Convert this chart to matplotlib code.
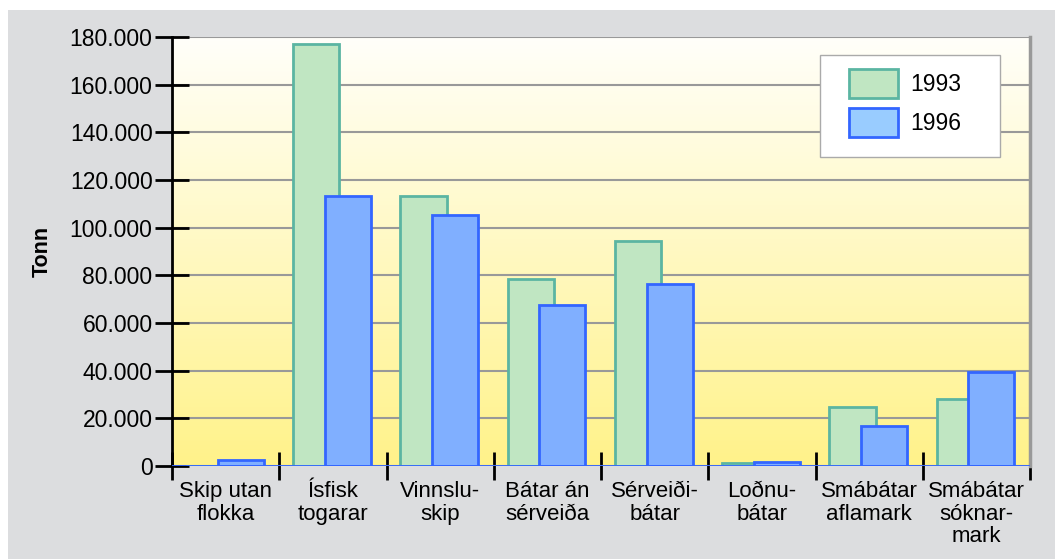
import numpy as np
import matplotlib
matplotlib.use("Agg")
import matplotlib.pyplot as plt
from matplotlib.patches import Patch, Rectangle
from matplotlib.ticker import FuncFormatter

plt.rcParams['font.family'] = ['Liberation Sans', 'DejaVu Sans']

categories = ["Skip utan\nflokka", "Ísfisk\ntogarar", "Vinnslu-\nskip", "Bátar án\nsérveiða",
              "Sérveiði-\nbátar", "Loðnu-\nbátar", "Smábátar\naflamark", "Smábátar\nsóknar-\nmark"]
vals_1993 = [0, 177000, 113300, 78500, 94400, 1300, 24800, 28100]
vals_1996 = [2500, 113300, 105300, 67600, 76400, 1500, 16800, 39400]
yticks = np.arange(0, 180001, 20000)

green_face, green_edge = "#C0E6C2", "#5BB5A2"
blue_face, blue_edge = "#80AFFF", "#3366FF"

fig = plt.figure(figsize=(10.55, 5.59), dpi=100)
fig.patches.append(Rectangle((8 / 1055, 0), 1, 1 - 10 / 559, transform=fig.transFigure,
                             facecolor="#DCDDDF", edgecolor="none", zorder=-10))

ax = fig.add_axes([172 / 1055, 1 - 466 / 559, 858 / 1055, 429 / 559])
ax.set_facecolor("none")

# yellow gradient background
grad = np.linspace(0, 1, 256).reshape(-1, 1)
top = np.array([1.0, 1.0, 0.98])
bot = np.array([1.0, 0.95, 0.54])
img = top * (1 - grad[..., None]) + bot * grad[..., None]
img = np.repeat(img, 2, axis=1)
ax.imshow(img, extent=[0, 1, 0, 1], transform=ax.transAxes, aspect="auto", zorder=0)

x = np.arange(len(categories))
ax.bar(x - 0.155, vals_1993, width=0.43, color=green_face, edgecolor=green_edge, linewidth=2, zorder=3)
ax.bar(x + 0.14, vals_1996, width=0.43, color=blue_face, edgecolor=blue_edge, linewidth=2, zorder=4)

ax.set_xlim(-0.5, len(categories) - 0.5)
ax.set_ylim(0, 180000)
ax.set_yticks(yticks)
ax.yaxis.set_major_formatter(FuncFormatter(lambda v, p: f"{v:,.0f}".replace(",", ".")))
ax.yaxis.grid(True, color="#999999", linewidth=1.5, zorder=1)
ax.axhline(0, color=blue_edge, linewidth=2, zorder=5)

ax.set_xticks(x)
ax.set_xticklabels(categories, fontsize=16, linespacing=1.1)
ax.tick_params(axis="x", which="major", length=0, pad=11)
ax.set_xticks(np.arange(-0.5, len(categories)), minor=True)
ax.tick_params(axis="x", which="minor", length=20, width=2, direction="inout", color="black")
ax.tick_params(axis="y", length=24, width=2, direction="inout", labelsize=16.5, pad=2, color="black")

for s in ["top", "bottom"]:
    ax.spines[s].set_visible(False)
ax.spines["left"].set_linewidth(2)
ax.spines["right"].set_color("#999999")
ax.spines["right"].set_linewidth(2.5)

ax.set_ylabel("Tonn", fontsize=15.5, fontweight="bold", labelpad=12)

# legend box drawn separately so it can be wider than its contents
ax.add_patch(Rectangle((0.755, 0.720), 0.210, 0.238, transform=ax.transAxes,
                       facecolor="white", edgecolor="#AAAAAA", linewidth=1, zorder=9))
handles = [Patch(facecolor=green_face, edgecolor=green_edge, linewidth=2, label="1993"),
           Patch(facecolor="#99CCFF", edgecolor=blue_edge, linewidth=2, label="1996")]
leg = ax.legend(handles=handles, loc="upper left", bbox_to_anchor=(0.789, 0.925), fontsize=16.5,
                frameon=False, handlelength=2.14, handleheight=1.55,
                borderpad=0, labelspacing=0.45, handletextpad=0.55, borderaxespad=0)
leg.set_zorder(10)

fig.savefig("out.png", dpi=100)
